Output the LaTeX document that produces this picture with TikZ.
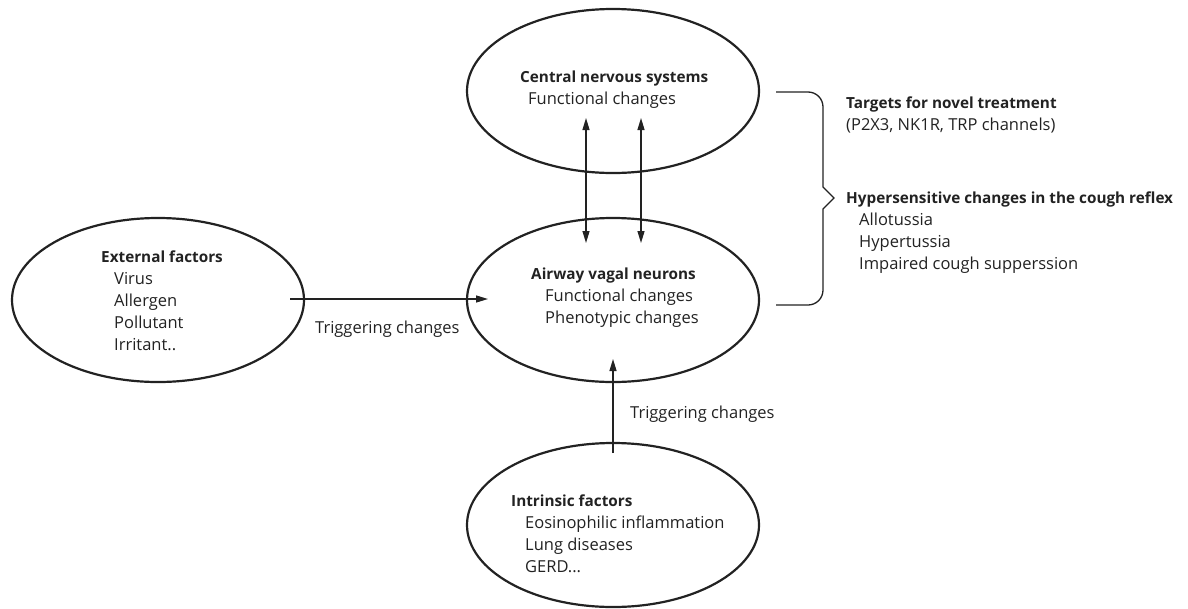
\documentclass[tikz,border=0pt]{standalone}
\usepackage{fontspec}
\setmainfont{Open Sans}
\usetikzlibrary{arrows.meta,shapes.geometric}
\definecolor{ink}{HTML}{222222}
\begin{document}
\begin{tikzpicture}[x=1pt,y=-1pt,
  oval/.style={draw=ink,line width=2.2pt,ellipse,minimum width=292pt,minimum height=164pt,inner sep=0pt},
  lbl/.style={anchor=base west,inner sep=0pt,text=ink,font=\fontsize{16.5}{20}\selectfont},
  hd/.style={lbl,font=\fontsize{15.3}{20}\selectfont\bfseries},
  conn/.style={draw=ink,line width=1.3pt},
  tip/.style={-{Triangle[length=12pt,width=7pt]}},
  tips/.style={{Triangle[length=12pt,width=7pt]}-{Triangle[length=12pt,width=7pt]}}]
\useasboundingbox (0,0) rectangle (1188,608);
% ellipses
\node[oval] (cns) at (613,91) {};
\node[oval] (avn) at (613,300) {};
\node[oval] (ext) at (158,300) {};
\node[oval] (intr) at (613,525) {};
% texts
\node[hd] (t1) at (520,82) {Central nervous systems};
\node[lbl] (t2) at (528,104) {Functional changes};
\node[hd] (t3) at (531,279) {Airway vagal neurons};
\node[lbl] (t4) at (545,301) {Functional changes};
\node[lbl] (t5) at (545,323) {Phenotypic changes};
\node[hd] (t6) at (101,262) {External factors};
\node[lbl] (t7) at (114,284) {Virus};
\node[lbl] (t8) at (114,306) {Allergen};
\node[lbl] (t9) at (114,328) {Pollutant};
\node[lbl] (t10) at (114,350) {Irritant..};
\node[hd] (t11) at (511,506) {Intrinsic factors};
\node[lbl] (t12) at (525,528) {Eosinophilic inflammation};
\node[lbl] (t13) at (525,550) {Lung diseases};
\node[lbl] (t14) at (525,572) {GERD...};
\node[lbl] (t15) at (315,333) {Triggering changes};
\node[lbl] (t16) at (630,418) {Triggering changes};
\node[hd] (t17) at (846,108) {Targets for novel treatment};
\node[lbl] (t18) at (846,130) {(P2X3, NK1R, TRP channels)};
\node[hd] (t19) at (846,203) {Hypersensitive changes in the cough reflex};
\node[lbl] (t20) at (859,225) {Allotussia};
\node[lbl] (t21) at (859,247) {Hypertussia};
\node[lbl] (t22) at (859,269) {Impaired cough supperssion};
% connector end points
\coordinate (a1) at (586,118); \coordinate (a2) at (586,243);
\coordinate (b1) at (641,118); \coordinate (b2) at (641,243);
\coordinate (h1) at (290,299); \coordinate (h2) at (488,299);
\coordinate (v1) at (613,453); \coordinate (v2) at (613,359);
\draw[conn,tips] (a1) -- (a2);
\draw[conn,tips] (b1) -- (b2);
\draw[conn,tip] (h1) -- (h2);
\draw[conn,tip] (v1) -- (v2);
% brace
\coordinate (bt) at (776,92); \coordinate (bb) at (776,305); \coordinate (bm) at (834,198);
\draw[draw=ink,line width=1.3pt,line join=miter]
  (bt) -- (808,92) to[out=0,in=90] (823,107) -- (823,187) -- (bm) -- (823,209)
  -- (823,290) to[out=-90,in=0] (808,305) -- (bb);
\end{tikzpicture}
\end{document}
